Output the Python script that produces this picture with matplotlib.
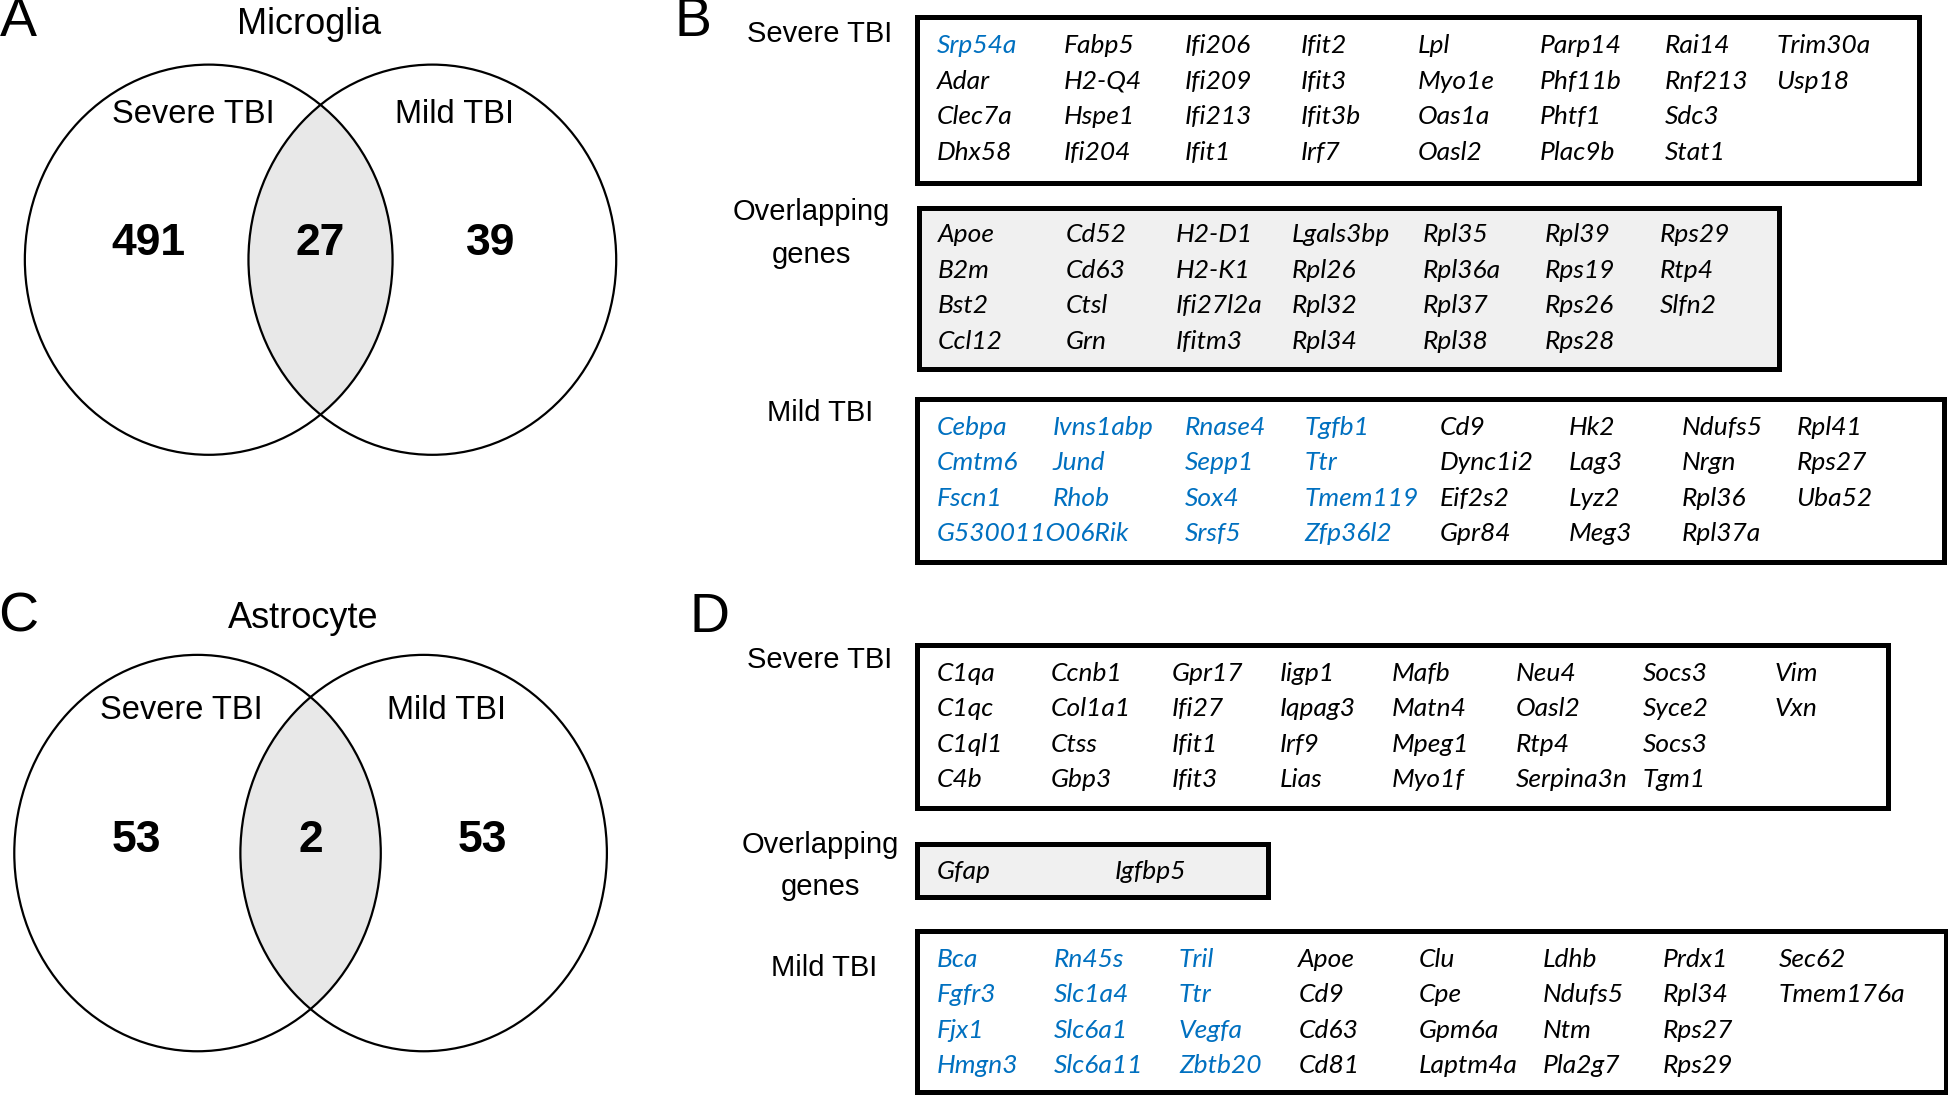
import matplotlib

matplotlib.use("Agg")
import matplotlib.pyplot as plt
from matplotlib.patches import Ellipse, Rectangle

# Venn counts: severe only, overlap, mild only
microglia_counts = [491, 27, 39]
astrocyte_counts = [53, 2, 53]
set_labels = ["Severe TBI", "Mild TBI"]
venn_titles = ["Microglia", "Astrocyte"]
panel_letters = ["A", "B", "C", "D"]

# gene lists, column by column as laid out in the boxes
mg_severe = [
    ["Srp54a", "Adar", "Clec7a", "Dhx58"],
    ["Fabp5", "H2-Q4", "Hspe1", "Ifi204"],
    ["Ifi206", "Ifi209", "Ifi213", "Ifit1"],
    ["Ifit2", "Ifit3", "Ifit3b", "Irf7"],
    ["Lpl", "Myo1e", "Oas1a", "Oasl2"],
    ["Parp14", "Phf11b", "Phtf1", "Plac9b"],
    ["Rai14", "Rnf213", "Sdc3", "Stat1"],
    ["Trim30a", "Usp18"],
]
mg_overlap = [
    ["Apoe", "B2m", "Bst2", "Ccl12"],
    ["Cd52", "Cd63", "Ctsl", "Grn"],
    ["H2-D1", "H2-K1", "Ifi27l2a", "Ifitm3"],
    ["Lgals3bp", "Rpl26", "Rpl32", "Rpl34"],
    ["Rpl35", "Rpl36a", "Rpl37", "Rpl38"],
    ["Rpl39", "Rps19", "Rps26", "Rps28"],
    ["Rps29", "Rtp4", "Slfn2"],
]
mg_mild = [
    ["Cebpa", "Cmtm6", "Fscn1", "G530011O06Rik"],
    ["Ivns1abp", "Jund", "Rhob"],
    ["Rnase4", "Sepp1", "Sox4", "Srsf5"],
    ["Tgfb1", "Ttr", "Tmem119", "Zfp36l2"],
    ["Cd9", "Dync1i2", "Eif2s2", "Gpr84"],
    ["Hk2", "Lag3", "Lyz2", "Meg3"],
    ["Ndufs5", "Nrgn", "Rpl36", "Rpl37a"],
    ["Rpl41", "Rps27", "Uba52"],
]
as_severe = [
    ["C1qa", "C1qc", "C1ql1", "C4b"],
    ["Ccnb1", "Col1a1", "Ctss", "Gbp3"],
    ["Gpr17", "Ifi27", "Ifit1", "Ifit3"],
    ["Iigp1", "Iqpag3", "Irf9", "Lias"],
    ["Mafb", "Matn4", "Mpeg1", "Myo1f"],
    ["Neu4", "Oasl2", "Rtp4", "Serpina3n"],
    ["Socs3", "Syce2", "Socs3", "Tgm1"],
    ["Vim", "Vxn"],
]
as_overlap = [["Gfap"], ["Igfbp5"]]
as_mild = [
    ["Bca", "Fgfr3", "Fjx1", "Hmgn3"],
    ["Rn45s", "Slc1a4", "Slc6a1", "Slc6a11"],
    ["Tril", "Ttr", "Vegfa", "Zbtb20"],
    ["Apoe", "Cd9", "Cd63", "Cd81"],
    ["Clu", "Cpe", "Gpm6a", "Laptm4a"],
    ["Ldhb", "Ndufs5", "Ntm", "Pla2g7"],
    ["Prdx1", "Rpl34", "Rps27", "Rps29"],
    ["Sec62", "Tmem176a"],
]

# genes printed in blue
blue_genes = {"Srp54a"}
for col in mg_mild[:4] + as_mild[:3]:
    blue_genes.update(col)

BLUE = "#0070c0"
SANS = ["Liberation Sans", "DejaVu Sans"]
GENE_FONT = ["Lato", "DejaVu Sans"]
ROW_STEP = 28.5


def draw_venn(ax, cx, cy, w, h, sep, counts, title, title_xy, label_y, num_y):
    left = Ellipse((cx - sep / 2, cy), w, h, fill=False, lw=1.6, ec="black")
    right = Ellipse((cx + sep / 2, cy), w, h, fill=False, lw=1.6, ec="black")
    ax.add_patch(left)
    ax.add_patch(right)
    lens = Ellipse((cx + sep / 2, cy), w, h, fc="#e8e8e8", ec="none", zorder=0)
    ax.add_patch(lens)
    lens.set_clip_path(left)
    ax.text(*title_xy, title, ha="center", va="center", fontsize=26, family=SANS)
    ax.text(cx - sep * 0.57, label_y, set_labels[0], ha="center", va="center",
            fontsize=23.5, family=SANS)
    ax.text(cx + sep * 0.6, label_y, set_labels[1], ha="center", va="center",
            fontsize=23.5, family=SANS)
    for x, n in zip([cx - sep * 0.77, cx, cx + sep * 0.76], counts):
        ax.text(x, num_y, str(n), ha="center", va="center", fontsize=32,
                fontweight="bold", family=SANS)


def draw_gene_box(ax, columns, col_x, row_y, box, label, label_xy, shaded=False):
    x0, y0, x1, y1 = box
    ax.add_patch(Rectangle((x0, y0), x1 - x0, y1 - y0, lw=3.6, ec="black",
                           fc="#f0f0f0" if shaded else "white", zorder=1))
    for x, genes in zip(col_x, columns):
        for i, gene in enumerate(genes):
            ax.text(x, row_y + i * ROW_STEP, gene, ha="left", va="center",
                    fontsize=19, style="italic", family=GENE_FONT,
                    color=BLUE if gene in blue_genes else "black", zorder=2)
    ax.text(*label_xy, label, ha="center", va="center", fontsize=21,
            family=SANS, linespacing=1.65)


fig = plt.figure(figsize=(19.48, 10.96), dpi=100)
ax = fig.add_axes([0, 0, 1, 1])
ax.set_xlim(0, 1568)
ax.set_ylim(882, 0)
ax.axis("off")

for letter, xy in zip(panel_letters, [(15, 18), (558, 18), (15, 497), (571, 497)]):
    ax.text(*xy, letter, ha="center", va="center", fontsize=40, family=SANS)

draw_venn(ax, 258, 209, 296, 314, 180, microglia_counts, venn_titles[0],
          (249, 20), 92, 196)
draw_venn(ax, 250, 686.5, 295, 319, 182, astrocyte_counts, venn_titles[1],
          (244, 498), 572, 676)

draw_gene_box(ax, mg_severe, [754, 856, 954, 1047, 1141, 1239, 1340, 1430], 37,
              (738, 14, 1545, 147), "Severe TBI", (660, 27))
draw_gene_box(ax, mg_overlap, [755, 858, 946, 1040, 1145, 1243, 1336], 189,
              (740, 167, 1432, 297), "Overlapping\ngenes", (653, 188), shaded=True)
draw_gene_box(ax, mg_mild, [754, 847, 954, 1050, 1159, 1263, 1354, 1446], 344,
              (738, 321, 1565, 452), "Mild TBI", (660, 332))
draw_gene_box(ax, as_severe, [754, 846, 943, 1030, 1120, 1220, 1322, 1428], 542,
              (738, 519, 1520, 650), "Severe TBI", (660, 531))
draw_gene_box(ax, as_overlap, [754, 897], 701,
              (738, 679, 1021, 722), "Overlapping\ngenes", (660, 697), shaded=True)
draw_gene_box(ax, as_mild, [754, 848, 949, 1045, 1142, 1242, 1338, 1432], 772,
              (738, 749, 1566, 879), "Mild TBI", (663, 779))

fig.savefig("out.png", dpi=100)
